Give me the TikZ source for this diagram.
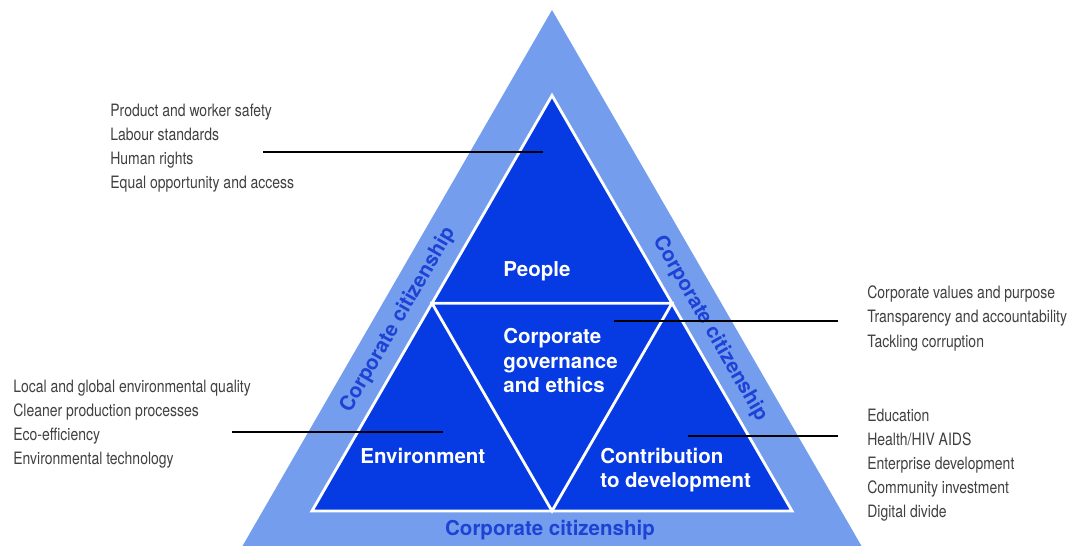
\documentclass[tikz,border=0pt]{standalone}
\usepackage{fontspec}
\setmainfont{TeX Gyre Heros}
\newfontfamily\notefont[FakeStretch=0.82]{TeX Gyre Heros}
\usepackage{xcolor}
\definecolor{citizen}{RGB}{116,158,237}
\definecolor{core}{RGB}{6,58,226}
\definecolor{citizentext}{RGB}{30,66,214}
\definecolor{notegray}{RGB}{64,64,64}
\usepackage{tikz}
\usetikzlibrary{calc}

\begin{document}
\begin{tikzpicture}[
	note/.style={font=\notefont\fontsize{9.7}{13.66}\selectfont, text=notegray,
		align=left, inner sep=0pt},
	area/.style={font=\bfseries\fontsize{11.67}{13.95}\selectfont, text=white,
		align=left, inner sep=0pt},
	band/.style={font=\bfseries\fontsize{11.67}{13.95}\selectfont,
		text=citizentext, inner sep=0pt},
	leader/.style={black, line width=1.1pt}]
	\useasboundingbox (0,0) rectangle (21.44,10.92);

	% outer band and the three fields inside it
	\coordinate (T) at (11.04,10.72);
	\coordinate (L) at (4.85,0);
	\coordinate (R) at (17.23,0);
	\coordinate (t) at (11.04,9.01);
	\coordinate (l) at (6.24,0.70);
	\coordinate (r) at (15.84,0.70);
	\fill[citizen] (T)--(L)--(R)--cycle;
	\filldraw[fill=core, draw=white, line width=1.6pt] (t)--(l)--(r)--cycle;
	\draw[white, line width=1.6pt] ($(t)!.5!(l)$)--($(t)!.5!(r)$)--($(l)!.5!(r)$)--cycle;

	\node[area, anchor=west] (people) at (10.06,5.50) {People};
	\node[area, anchor=north west] (governance) at (10.06,4.36)
		{Corporate\\governance\\and ethics};
	\node[area, anchor=west] (environment) at (7.20,1.80) {Environment};
	\node[area, anchor=north west] (contribution) at (12.00,1.97)
		{Contribution\\to development};

	\node[band, rotate=60] (citleft) at (7.96,4.52) {Corporate citizenship};
	\node[band, rotate=-60] (citright) at (14.20,4.34) {Corporate citizenship};
	\node[band] (citbottom) at (11.00,0.32) {Corporate citizenship};

	% issue lists
	\node[note, anchor=west] (peoplenote) at (2.20,7.95)
		{Product and worker safety\\Labour standards\\Human rights\\Equal opportunity and access};
	\node[note, anchor=west] (governancenote) at (17.34,4.55)
		{Corporate values and purpose\\Transparency and accountability\\Tackling corruption};
	\node[note, anchor=west] (environmentnote) at (0.26,2.43)
		{Local and global environmental quality\\Cleaner production processes\\Eco-efficiency\\Environmental technology};
	\node[note, anchor=west] (contributionnote) at (17.34,1.61)
		{Education\\Health/HIV AIDS\\Enterprise development\\Community investment\\Digital divide};

	% leader lines
	\coordinate (pa) at (5.26,7.88);  \coordinate (pb) at (10.86,7.88);
	\coordinate (ga) at (12.28,4.50); \coordinate (gb) at (16.76,4.50);
	\coordinate (ea) at (4.64,2.28);  \coordinate (eb) at (8.86,2.28);
	\coordinate (ca) at (13.76,2.20); \coordinate (cb) at (16.76,2.20);
	\foreach \a/\b in {pa/pb,ga/gb,ca/cb}
		\draw[leader] (\a)--(\b);
	\draw[leader, line width=0.7pt] (ea)--(eb);
\end{tikzpicture}
\end{document}
